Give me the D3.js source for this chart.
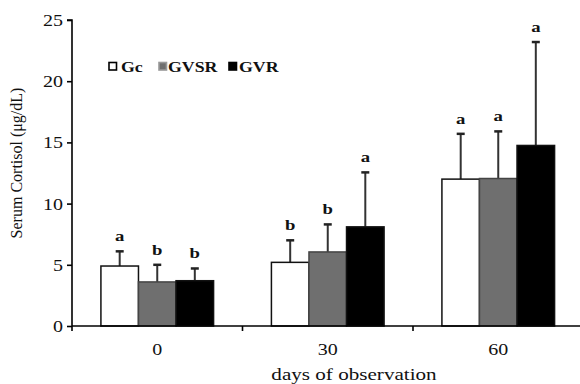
<!DOCTYPE html>
<html>
<head>
<meta charset="utf-8">
<script src="https://cdn.jsdelivr.net/npm/d3@7"></script>
<style>
  html, body { margin: 0; padding: 0; background: #fff; }
  svg { display: block; font-family: "Liberation Serif", "Times New Roman", serif; }
</style>
</head>
<body>
<div id="chart"></div>
<script>
// data
const categories = ["0", "30", "60"];
const series = ["Gc", "GVSR", "GVR"];
const gcMean = [4.9, 5.2, 12.0];
const gcSd = [1.2, 1.8, 3.7];
const gvsrMean = [3.6, 6.05, 12.05];
const gvsrSd = [1.4, 2.25, 3.85];
const gvrMean = [3.7, 8.1, 14.75];
const gvrSd = [1.0, 4.45, 8.45];
const gcLetters = ["a", "b", "a"];
const gvsrLetters = ["b", "b", "a"];
const gvrLetters = ["b", "a", "a"];
const yTicks = [0, 5, 10, 15, 20, 25];

const colors = { Gc: "#ffffff", GVSR: "#6f6f6f", GVR: "#000000" };
const sx = 1.25; // horizontal stretch of the original text

const means = { Gc: gcMean, GVSR: gvsrMean, GVR: gvrMean };
const sds = { Gc: gcSd, GVSR: gvsrSd, GVR: gvrSd };
const letters = { Gc: gcLetters, GVSR: gvsrLetters, GVR: gvrLetters };

const rows = [];
categories.forEach((c, i) => {
  series.forEach((s) => {
    rows.push({ cat: c, key: s, v: means[s][i], sd: sds[s][i], lab: letters[s][i] });
  });
});

const W = 580, H = 384;
const margin = { top: 20, left: 72, bottom: 58 };

const svg = d3.select("#chart").append("svg")
  .attr("width", W)
  .attr("height", H)
  .attr("viewBox", [0, 0, W, H]);

const x = d3.scaleBand()
  .domain(categories)
  .range([margin.left, margin.left + 3 * 170.5])
  .padding(0);

const xg = d3.scaleBand()
  .domain(series)
  .range([0, x.bandwidth()])
  .paddingInner(0)
  .paddingOuter(0.77);

const y = d3.scaleLinear()
  .domain([0, 25])
  .range([H - margin.bottom, margin.top]);

//
const bars = svg.append("g").attr("class", "bars");

// error bars (upper only)
const err = bars.selectAll("g.err")
  .data(rows)
  .join("g")
  .attr("class", "err")
  .attr("transform", (d) => `translate(${x(d.cat) + xg(d.key) + xg.bandwidth() / 2},0)`);

err.append("line")
  .attr("x1", 0).attr("x2", 0)
  .attr("y1", (d) => y(d.v))
  .attr("y2", (d) => y(d.v + d.sd))
  .attr("stroke", "#333")
  .attr("stroke-width", 2);

err.append("line")
  .attr("x1", -4).attr("x2", 4)
  .attr("y1", (d) => y(d.v + d.sd))
  .attr("y2", (d) => y(d.v + d.sd))
  .attr("stroke", "#222")
  .attr("stroke-width", 2.5);

bars.selectAll("rect")
  .data(rows)
  .join("rect")
  .attr("x", (d) => x(d.cat) + xg(d.key))
  .attr("y", (d) => y(d.v))
  .attr("width", xg.bandwidth())
  .attr("height", (d) => y(0) - y(d.v))
  .attr("fill", (d) => colors[d.key])
  .attr("stroke", (d) => (d.key === "GVSR" ? "#444" : "#111"))
  .attr("stroke-width", 1.5);

// significance letters
bars.selectAll("text.sig")
  .data(rows)
  .join("text")
  .attr("class", "sig")
  .attr("transform", (d) =>
    `translate(${x(d.cat) + xg(d.key) + xg.bandwidth() / 2},${y(d.v + d.sd) - 10}) scale(${sx},1)`)
  .attr("text-anchor", "middle")
  .attr("font-size", 15)
  .attr("font-weight", "bold")
  .attr("fill", "#111")
  .text((d) => d.lab);

//
const ay = d3.axisLeft(y).tickValues(yTicks).tickSize(5).tickPadding(0);
svg.append("g")
  .attr("class", "ay")
  .attr("transform", `translate(${margin.left},0)`)
  .call(ay)
  .call((g) => g.select(".domain").attr("stroke-width", 1.6).attr("d", `M-5,${y(25)}H0V${y(0)}`))
  .call((g) => g.selectAll(".tick line").attr("stroke-width", 1.6))
  .call((g) => g.selectAll(".tick text")
    .attr("x", -9 / sx)
    .attr("dy", "0.34em")
    .attr("transform", `scale(${sx},1)`)
    .attr("font-size", 16)
    .attr("font-family", "Liberation Serif")
    .attr("fill", "#111"));

// x axis: line, boundary ticks, centred labels
const ax = svg.append("g").attr("class", "ax");
ax.append("line")
  .attr("x1", x.range()[0]).attr("x2", x.range()[1])
  .attr("y1", y(0)).attr("y2", y(0))
  .attr("stroke", "#000").attr("stroke-width", 1.6);

const bounds = categories.map((c) => x(c)).concat([x.range()[1]]);
ax.selectAll("line.tk")
  .data(bounds)
  .join("line")
  .attr("class", "tk")
  .attr("x1", (d) => d).attr("x2", (d) => d)
  .attr("y1", y(0)).attr("y2", y(0) + 5)
  .attr("stroke", "#000").attr("stroke-width", 1.6);

ax.selectAll("text")
  .data(categories)
  .join("text")
  .attr("transform", (d) => `translate(${x(d) + x.bandwidth() / 2},${y(0) + 29}) scale(${sx},1)`)
  .attr("text-anchor", "middle")
  .attr("font-size", 16)
  .attr("fill", "#111")
  .text((d) => d);

// titles
svg.append("text")
  .attr("transform", `translate(354,380) scale(1.28,1)`)
  .attr("text-anchor", "middle")
  .attr("font-size", 16.5)
  .attr("fill", "#111")
  .text("days of observation");

svg.append("text")
  .attr("transform", "translate(22,163) rotate(-90)")
  .attr("text-anchor", "middle")
  .attr("font-size", 16)
  .attr("fill", "#111")
  .text("Serum Cortisol (μg/dL)");

// legend
const legendPos = [
  { key: "Gc", sq: 109, tx: 121 },
  { key: "GVSR", sq: 159, tx: 168 },
  { key: "GVR", sq: 229, tx: 239 },
];
const legend = svg.append("g").attr("class", "legend");
const li = legend.selectAll("g")
  .data(legendPos)
  .join("g");
li.append("rect")
  .attr("x", (d) => d.sq)
  .attr("y", 62.5)
  .attr("width", 7.5)
  .attr("height", 7.5)
  .attr("fill", (d) => colors[d.key])
  .attr("stroke", (d) => (d.key === "GVSR" ? "#999" : "#000"))
  .attr("stroke-width", 1.6);
li.append("text")
  .attr("transform", (d) => `translate(${d.tx},72) scale(1.15,1)`)
  .attr("font-size", 15.5)
  .attr("font-weight", "bold")
  .attr("fill", "#111")
  .text((d) => d.key);
</script>
</body>
</html>
